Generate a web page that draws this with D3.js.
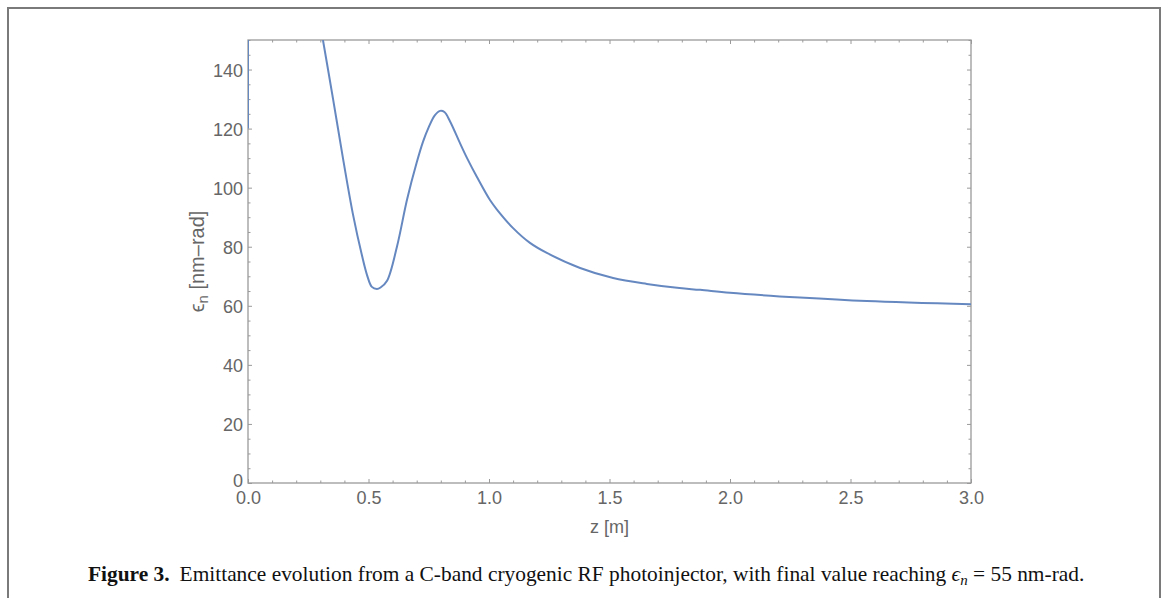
<!DOCTYPE html>
<html>
<head>
<meta charset="utf-8">
<script src="https://cdn.jsdelivr.net/npm/d3@7/dist/d3.min.js"></script>
<style>
  html, body { margin: 0; padding: 0; background: #fff; }
  svg { display: block; }
</style>
</head>
<body>
<svg id="chart" width="1165" height="598"></svg>
<script>
// ---- data ----
const zValues = [0, 0, null,
  0.311, 0.353, 0.394, 0.436, 0.473, 0.494, 0.514, 0.535, 0.55, 0.577, 0.618, 0.66, 0.70, 0.726, 0.75, 0.775, 0.797, 0.815, 0.838, 0.88, 0.909, 0.95, 1.004,
  1.033, 1.10, 1.17, 1.24, 1.378, 1.515, 1.655, 1.79, 1.876, 2.0, 2.29, 2.568, 3.0];
const emittance = [120, 150, null,
  150, 130, 110, 90.8, 77, 70.4, 66.4, 65.7, 66.2, 68.5, 80, 96, 108.5, 115.5, 120.5, 124.5, 126, 125.6, 122.5, 115, 110, 103.6, 95.8,
  92.6, 86.3, 81.3, 77.9, 72.8, 69.4, 67.4, 66, 65.4, 64.4, 62.8, 61.6, 60.5];
const xMajorTicks = [0, 0.5, 1.0, 1.5, 2.0, 2.5, 3.0];
const xTickLabels = ["0.0", "0.5", "1.0", "1.5", "2.0", "2.5", "3.0"];
const yMajorTicks = [0, 20, 40, 60, 80, 100, 120, 140];
const yTickLabels = ["0", "20", "40", "60", "80", "100", "120", "140"];

const points = zValues.map((z, i) => ({ z: z, e: emittance[i] }));

const svg = d3.select("#chart");
const L = 248, R = 971, T = 40, B = 483;

const x = d3.scaleLinear().domain([0, 3]).range([L, R]);
const y = d3.scaleLinear().domain([0, 150]).range([B, T]);

const axisColor = "#9a9a9a";
const textColor = "#666";
const font = "'Liberation Sans', Arial, sans-serif";

// page frame
svg.append("path")
  .attr("d", `M8,598 L8,8 L1160,8 L1160,598`)
  .attr("fill", "none").attr("stroke", "#7a7a7a").attr("stroke-width", 2);

// clip
svg.append("clipPath").attr("id", "plotclip")
  .append("rect").attr("x", L).attr("y", T).attr("width", R - L).attr("height", B - T);

// frame of the plot
svg.append("rect").attr("x", L).attr("y", T).attr("width", R - L).attr("height", B - T)
  .attr("fill", "none").attr("stroke", axisColor).attr("stroke-width", 1.3);

const xMinor = d3.range(0, 3.0001, 0.1).filter(v => !xMajorTicks.some(m => Math.abs(m - v) < 1e-6));
const yMinor = d3.range(0, 150.0001, 5).filter(v => !yMajorTicks.some(m => Math.abs(m - v) < 1e-6));

function styleAxis(g) {
  g.select(".domain").remove();
  g.selectAll(".tick line").attr("stroke", axisColor).attr("stroke-width", 1);
}
// bottom
svg.append("g").attr("transform", `translate(0,${B})`)
  .call(d3.axisBottom(x).tickValues(xMajorTicks).tickSize(-4).tickFormat((d, i) => xTickLabels[i]))
  .call(styleAxis)
  .call(g => g.selectAll("text").attr("fill", textColor).attr("font-family", font).attr("font-size", 18).attr("y", 8).attr("dy", "0.71em"));
svg.append("g").attr("transform", `translate(0,${B})`)
  .call(d3.axisBottom(x).tickValues(xMinor).tickSize(-2.5).tickFormat(""))
  .call(styleAxis);
// top
svg.append("g").attr("transform", `translate(0,${T})`)
  .call(d3.axisTop(x).tickValues(xMajorTicks).tickSize(-4).tickFormat(""))
  .call(styleAxis);
svg.append("g").attr("transform", `translate(0,${T})`)
  .call(d3.axisTop(x).tickValues(xMinor).tickSize(-2.5).tickFormat(""))
  .call(styleAxis);
// left
svg.append("g").attr("transform", `translate(${L},0)`)
  .call(d3.axisLeft(y).tickValues(yMajorTicks).tickSize(-4).tickFormat((d, i) => yTickLabels[i]))
  .call(styleAxis)
  .call(g => g.selectAll("text").attr("fill", textColor).attr("font-family", font).attr("font-size", 18).attr("x", -5).attr("dy", "0.38em"))
  .call(g => g.selectAll(".tick").filter(d => d === 0).select("text").attr("dy", "0.2em"));
svg.append("g").attr("transform", `translate(${L},0)`)
  .call(d3.axisLeft(y).tickValues(yMinor).tickSize(-2.5).tickFormat(""))
  .call(styleAxis);
// right
svg.append("g").attr("transform", `translate(${R},0)`)
  .call(d3.axisRight(y).tickValues(yMajorTicks).tickSize(-4).tickFormat(""))
  .call(styleAxis);
svg.append("g").attr("transform", `translate(${R},0)`)
  .call(d3.axisRight(y).tickValues(yMinor).tickSize(-2.5).tickFormat(""))
  .call(styleAxis);

// curve
const line = d3.line()
  .defined(d => d.z !== null && d.e !== null)
  .x(d => x(d.z)).y(d => y(d.e))
  .curve(d3.curveCatmullRom.alpha(0.5));
svg.append("path")
  .datum(points)
  .attr("clip-path", "url(#plotclip)")
  .attr("d", line)
  .attr("fill", "none")
  .attr("stroke", "#6688c0")
  .attr("stroke-width", 2);

// axis labels
svg.append("text").attr("x", (L + R) / 2).attr("y", 533)
  .attr("text-anchor", "middle").attr("fill", textColor)
  .attr("font-family", font).attr("font-size", 18).text("z [m]");

const yl = svg.append("text")
  .attr("transform", `translate(204,${(T + B) / 2}) rotate(-90)`)
  .attr("text-anchor", "middle").attr("fill", textColor)
  .attr("font-family", font).attr("font-size", 20);
yl.append("tspan").text("\u03F5");
yl.append("tspan").attr("font-size", 15).attr("dy", 4).text("n");
yl.append("tspan").attr("dy", -4).text(" [nm\u2013rad]");

// caption
const cap = svg.append("text").attr("x", 88).attr("y", 581)
  .attr("font-family", "'Liberation Serif', 'DejaVu Serif', serif").attr("font-size", 21.4).attr("fill", "#111");
cap.append("tspan").attr("font-weight", "bold").text("Figure 3.");
cap.append("tspan").attr("dx", 10).text("Emittance evolution from a C-band cryogenic RF photoinjector, with final value reaching ");
cap.append("tspan").attr("font-style", "italic").text("\u03F5");
cap.append("tspan").attr("font-style", "italic").attr("font-size", 15).attr("dy", 4).text("n");
cap.append("tspan").attr("dy", -4).text(" = 55 nm-rad.");
</script>
</body>
</html>
